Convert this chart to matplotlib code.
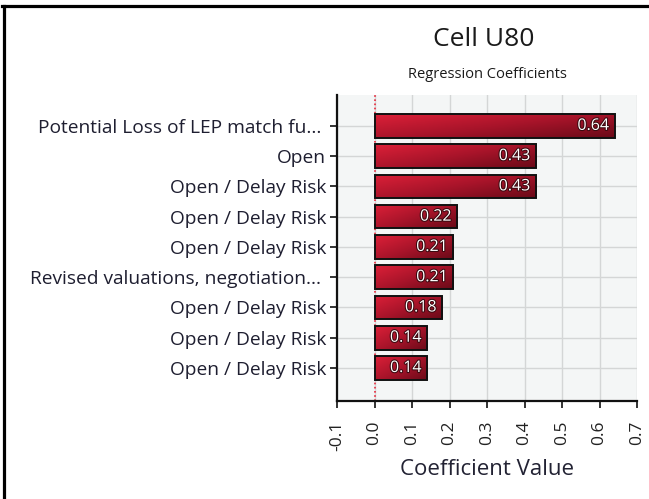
import matplotlib
matplotlib.use('Agg')
import numpy as np
import matplotlib.pyplot as plt
import matplotlib.patheffects as pe
from matplotlib.colors import LinearSegmentedColormap
from matplotlib.lines import Line2D

# data
labels = ["Potential Loss of LEP match fu... ", "Open", "Open / Delay Risk",
          "Open / Delay Risk", "Open / Delay Risk", "Revised valuations, negotiation... ",
          "Open / Delay Risk", "Open / Delay Risk", "Open / Delay Risk"]
values = [0.64, 0.43, 0.43, 0.22, 0.21, 0.21, 0.18, 0.14, 0.14]
xticks = [-0.1, 0.0, 0.1, 0.2, 0.3, 0.4, 0.5, 0.6, 0.7]

plt.rcParams['font.family'] = ['Open Sans', 'DejaVu Sans']

fig = plt.figure(figsize=(6.49, 4.99), dpi=100)
ax = fig.add_axes([337 / 649, 1 - 401 / 499, 300 / 649, 306 / 499])
ax.set_facecolor('#f4f6f6')

# bars with a red gradient
cmap = LinearSegmentedColormap.from_list('bar', ['#dc2038', '#a8142a', '#6a0a18'])
yy, xx = np.mgrid[0:1:40j, 0:1:120j]
grad = 0.55 * xx + 0.45 * yy
h = 0.78
pos = np.arange(len(values))
bars = ax.barh(pos, values, height=h, color='none', edgecolor='#111111', linewidth=1.4, zorder=3)
for b, v, y in zip(bars, values, pos):
    im = ax.imshow(grad, cmap=cmap, extent=[0, v, y + h / 2, y - h / 2],
                   aspect='auto', zorder=2, interpolation='bilinear')
    im.set_clip_path(b)
    ax.annotate(f"{v:.2f}", xy=(v, y), xytext=(-4, 0), textcoords='offset points',
                ha='right', va='center', color='white', fontsize=11.5,
                path_effects=[pe.withStroke(linewidth=1.5, foreground='#3a0a10')], zorder=4)

ax.axvline(0, color='#e8283c', linestyle=(0, (1, 1.5)), linewidth=1.2, zorder=2.5)

ax.set_xlim(-0.1, 0.7)
ax.set_ylim(9.09, -1.02)
ax.set_xticks(xticks)
ax.set_xticklabels([f"{t:.1f}" for t in xticks], rotation=90, fontsize=12.5, color='#222222')
ax.set_yticks(pos)
ax.set_yticklabels(labels, fontsize=13.8, color='#1e1e30')
ax.tick_params(axis='both', length=5, width=1.2, color='#111111', pad=3)
ax.tick_params(axis='x', pad=9)
ax.grid(True, color='#d4d6d6', linewidth=1.0, zorder=0)
ax.set_axisbelow(True)

for s in ['top', 'right']:
    ax.spines[s].set_visible(False)
for s in ['left', 'bottom']:
    ax.spines[s].set_linewidth(1.6)
    ax.spines[s].set_color('#111111')

ax.set_xlabel("Coefficient Value", fontsize=16, color='#222233', labelpad=6)
fig.text(484 / 649, 1 - 40 / 499, "Cell U80", ha='center', va='center', fontsize=19, color='#1a1a1a')
fig.text(487 / 649, 1 - 75 / 499, "Regression Coefficients", ha='center', va='center',
         fontsize=10.5, color='#1a1a1a')

# outer frame (left and top edges only visible)
fig.add_artist(Line2D([3.5 / 649, 3.5 / 649], [0, 1 - 5.5 / 499], color='black', linewidth=2.3,
                      transform=fig.transFigure))
fig.add_artist(Line2D([2 / 649, 1], [1 - 5.5 / 499, 1 - 5.5 / 499], color='black', linewidth=2.3,
                      transform=fig.transFigure))

fig.savefig('out.png', dpi=100)
